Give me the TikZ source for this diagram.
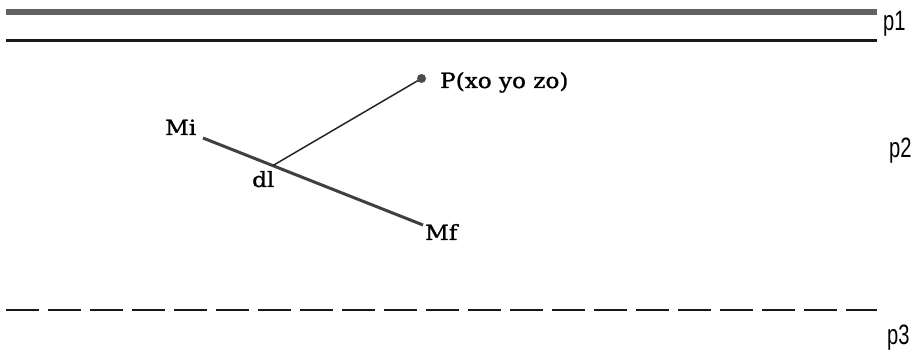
\documentclass[tikz,border=0pt]{standalone}
\usepackage{fontspec}
\newfontfamily\labfont[FakeStretch=1.1,FakeBold=1.2]{DejaVu Serif}
\newfontfamily\sidefont{Liberation Sans}
\begin{document}
\begin{tikzpicture}[x=1pt,y=1pt,
  serlab/.style={inner sep=0pt,anchor=base west,font=\labfont\fontsize{21}{21}\selectfont},
  sidelab/.style={inner sep=0pt,anchor=base west,font=\sidefont\fontsize{28}{28}\selectfont},
  plate/.style={line width=2.5pt,black!90},
  elem/.style={line width=3pt,black!75},
  ray/.style={line width=1.5pt,black!85}]
\useasboundingbox (0,0) rectangle (914,359);
% layers
\coordinate (b1) at (6,347); \coordinate (b2) at (877,347);
\draw[line width=6.5pt,black!62] (b1) -- (b2);
\coordinate (l1) at (6,318.5); \coordinate (l2) at (877,318.5);
\draw[plate] (l1) -- (l2);
\coordinate (d1) at (6,49); \coordinate (d2) at (877,49);
\draw[line width=2.2pt,black!90,dash pattern=on 33pt off 9pt] (d1) -- (d2);
% labels of regions
\node[sidelab] (p1) at (883,328) {\scalebox{0.72}[1]{p1}};
\node[sidelab] (p2) at (889,201) {\scalebox{0.72}[1]{p2}};
\node[sidelab] (p3) at (887,14) {\scalebox{0.72}[1]{p3}};
% element and point
\coordinate (mi) at (203,221);
\coordinate (mf) at (423,134);
\coordinate (dl) at (273,193.5);
\coordinate (pp) at (421.5,280.5);
\draw[elem] (mi) -- (mf);
\draw[ray] (dl) -- (pp);
\fill[black!70] (pp) circle (4.5pt);
\node[serlab] (ptext) at (440,271) {P(xo yo zo)};
\node[serlab] (mitext) at (165,224) {Mi};
\node[serlab] (mftext) at (425,119) {Mf};
\node[serlab] (dltext) at (252,172) {dl};
\end{tikzpicture}
\end{document}
